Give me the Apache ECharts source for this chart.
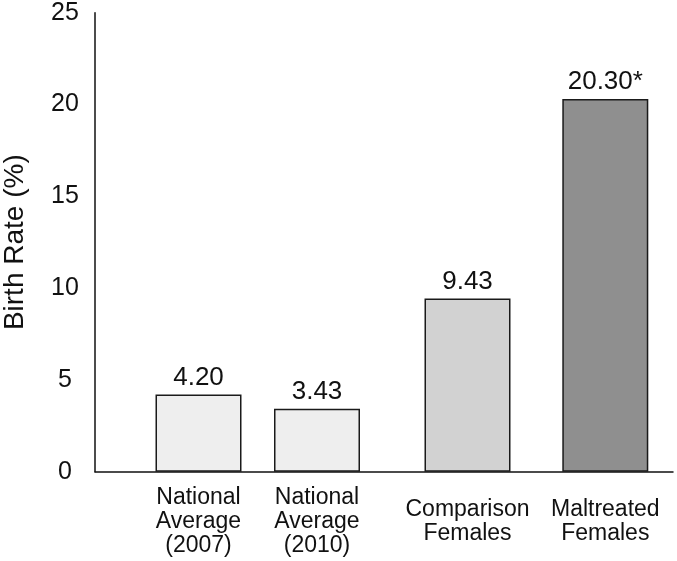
<!DOCTYPE html>
<html>
<head>
<meta charset="utf-8">
<script src="https://cdn.jsdelivr.net/npm/echarts@6/dist/echarts.min.js"></script>
<style>html,body{margin:0;padding:0;background:#fff;}#c{width:677px;height:561px;}</style>
</head>
<body>
<div id="c"></div>
<script>
// Group 1: national averages; Group 2: study groups
var categoriesNational = ['National\nAverage\n(2007)', 'National\nAverage\n(2010)'];
var valuesNational = [4.20, 3.43];
var labelsNational = ['4.20', '3.43'];
var categoriesStudy = ['Comparison\nFemales', 'Maltreated\nFemales'];
var valuesStudy = [9.43, 20.30];
var labelsStudy = ['9.43', '20.30*'];
var colorsNational = ['#eeeeee', '#eeeeee'];
var colorsStudy = ['#d2d2d2', '#8f8f8f'];
var yTicks = [0, 5, 10, 15, 20, 25];

var FONT = 'Liberation Sans, Arial, sans-serif';
var TOP = 12.7, BOTTOM = 89.3;
var yMin = yTicks[0], yMax = yTicks[yTicks.length - 1];

function hiddenY(g) {
  return {gridIndex: g, type: 'value', min: yMin, max: yMax, interval: 5, show: false};
}
function catX(g, cats) {
  return {gridIndex: g, type: 'category', data: cats,
    axisLine: {show: false}, axisTick: {show: false}, splitLine: {show: false},
    axisLabel: {color: '#111', fontFamily: FONT, fontSize: 23, lineHeight: 24,
                verticalAlign: 'middle', margin: 50, interval: 0}};
}
function barSeries(g, vals, cols, labs) {
  return {
    type: 'bar', xAxisIndex: g, yAxisIndex: g, barWidth: 86,
    data: vals.map(function (v, i) {
      return {value: v, itemStyle: {color: cols[i], borderColor: '#1a1a1a', borderWidth: 1.5}};
    }),
    label: {show: true, position: 'top', distance: 4, color: '#111', fontFamily: FONT, fontSize: 26,
            formatter: function (p) { return labs[p.dataIndex]; }}
  };
}

var chart = echarts.init(document.getElementById('c'), null, {renderer: 'canvas'});
chart.setOption({
  backgroundColor: '#ffffff',
  animation: false,
  grid: [
    {left: 95, right: 4, top: TOP, bottom: BOTTOM, containLabel: false, outerBoundsMode: 'none'},
    {left: 139.25, right: 677 - 376.25, top: TOP, bottom: BOTTOM, containLabel: false, outerBoundsMode: 'none'},
    {left: 398.6, right: 2.8, top: TOP, bottom: BOTTOM, containLabel: false, outerBoundsMode: 'none'}
  ],
  xAxis: [
    {gridIndex: 0, type: 'value', min: 0, max: 1,
     axisLine: {show: true, lineStyle: {color: '#111', width: 1.5}},
     axisTick: {show: false}, axisLabel: {show: false}, splitLine: {show: false}},
    catX(1, categoriesNational),
    catX(2, categoriesStudy)
  ],
  yAxis: [
    {gridIndex: 0, type: 'value', min: yMin, max: yMax, interval: 5,
     name: 'Birth Rate (%)', nameLocation: 'middle', nameGap: 66, nameRotate: 90,
     nameTextStyle: {color: '#111', fontFamily: FONT, fontSize: 28},
     axisLine: {show: true, lineStyle: {color: '#111', width: 1.5}},
     axisTick: {show: false}, splitLine: {show: false},
     axisLabel: {color: '#111', fontFamily: FONT, fontSize: 25, margin: 30, align: 'center'}},
    hiddenY(1),
    hiddenY(2)
  ],
  series: [
    barSeries(1, valuesNational, colorsNational, labelsNational),
    barSeries(2, valuesStudy, colorsStudy, labelsStudy)
  ]
});
</script>
</body>
</html>
